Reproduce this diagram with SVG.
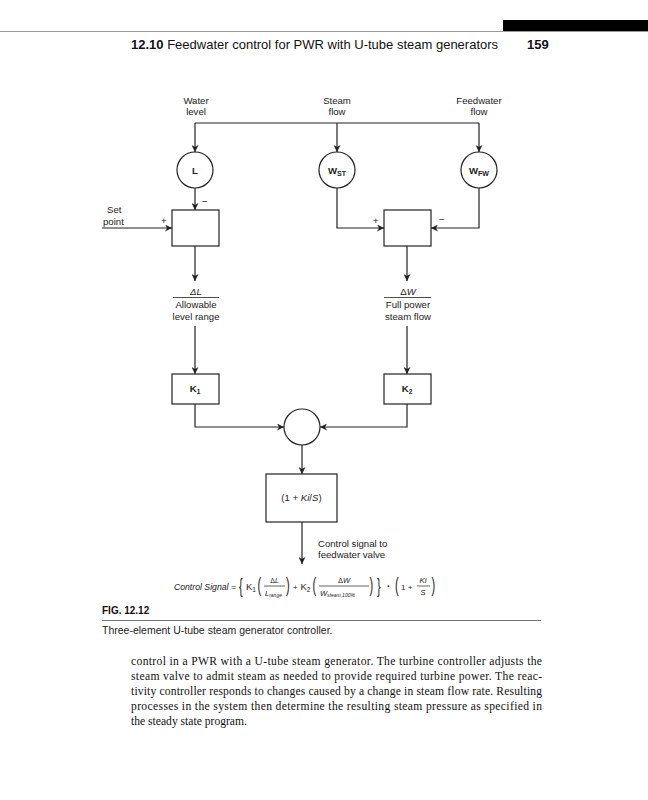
<svg xmlns="http://www.w3.org/2000/svg" width="648" height="800" viewBox="0 0 648 800">
<style>
.l{font-family:"Liberation Sans",Arial,sans-serif;font-size:9.6px;fill:#222}
.c{text-anchor:middle}
.ln{fill:none;stroke:#222;stroke-width:1.2}
.nd{fill:#fff;stroke:#222;stroke-width:1.2}
.b{font-weight:bold}
.it{font-style:italic}
.body{font-family:"Liberation Serif","Times New Roman",serif;font-size:11.6px;fill:#111}
.p{font-size:11px}
</style>
<defs>
<marker id="a" viewBox="0 0 10 10" refX="10" refY="5" markerWidth="7" markerHeight="7" markerUnits="userSpaceOnUse" orient="auto">
<path d="M0,0 L10,5 L0,10 L3,5 Z" fill="#222"/>
</marker>
</defs>
<rect width="648" height="800" fill="#fff"/>
<!-- header -->
<rect x="503" y="20" width="145" height="11" fill="#000"/>
<line x1="0" y1="31.5" x2="648" y2="31.5" stroke="#999" stroke-width="1"/>
<text x="131" y="49" font-family="Liberation Sans,Arial,sans-serif" font-size="13" fill="#111"><tspan font-weight="bold">12.10</tspan> Feedwater control for PWR with U-tube steam generators</text>
<text x="527" y="49" font-family="Liberation Sans,Arial,sans-serif" font-size="13" font-weight="bold" fill="#111">159</text>
<!-- input labels -->
<g id="water-level"><text class="l c" x="196" y="104">Water</text><text class="l c" x="196" y="115">level</text></g>
<g id="steam-flow"><text class="l c" x="337" y="104">Steam</text><text class="l c" x="337" y="115">flow</text></g>
<g id="feedwater-flow"><text class="l c" x="479" y="104">Feedwater</text><text class="l c" x="479" y="115">flow</text></g>
<g id="set-point"><text class="l" x="107" y="213">Set</text><text class="l" x="103" y="225">point</text></g>
<!-- connectors -->
<g id="connectors" class="ln">
<path d="M195,123 H479"/>
<path d="M195,123 V152" marker-end="url(#a)"/>
<path d="M337,123 V152" marker-end="url(#a)"/>
<path d="M479,123 V152" marker-end="url(#a)"/>
<path d="M195,188 V210" marker-end="url(#a)"/>
<path d="M102,228 H172" marker-end="url(#a)"/>
<path d="M337,188 V228 H384" marker-end="url(#a)"/>
<path d="M479,188 V228 H431" marker-end="url(#a)"/>
<path d="M195,246 V281" marker-end="url(#a)"/>
<path d="M407,246 V281" marker-end="url(#a)"/>
<path d="M195,326 V374" marker-end="url(#a)"/>
<path d="M407,326 V374" marker-end="url(#a)"/>
<path d="M195,404 V427 H284" marker-end="url(#a)"/>
<path d="M407,404 V427 H320" marker-end="url(#a)"/>
<path d="M302,445 V474" marker-end="url(#a)"/>
<path d="M302,522 V564" marker-end="url(#a)"/>
</g>
<g id="signs">
<text class="l" x="202" y="205" font-size="10">−</text>
<text class="l" x="161" y="224" font-size="9">+</text>
<text class="l" x="373" y="224" font-size="9">+</text>
<text class="l" x="439" y="223" font-size="10">−</text>
</g>
<!-- nodes -->
<g id="node-L"><circle class="nd" cx="195" cy="170" r="18"/><text class="l c b" x="195" y="173.5" font-size="9">L</text></g>
<g id="node-WST"><circle class="nd" cx="337" cy="170" r="18"/><text class="l c b" x="337" y="174" font-size="9.5">W<tspan font-size="7" dy="1.5">ST</tspan></text></g>
<g id="node-WFW"><circle class="nd" cx="479" cy="170" r="18"/><text class="l c b" x="479" y="174" font-size="9.5">W<tspan font-size="7" dy="1.5">FW</tspan></text></g>
<g id="sum-level"><rect class="nd" x="172" y="210" width="47" height="36"/></g>
<g id="sum-flow"><rect class="nd" x="384" y="210" width="47" height="36"/></g>
<g id="norm-level">
<text class="l c it" x="196" y="295">ΔL</text>
<line x1="173" y1="297.5" x2="219" y2="297.5" stroke="#222" stroke-width="0.8"/>
<text class="l c" x="196" y="308">Allowable</text>
<text class="l c" x="196" y="320">level range</text>
</g>
<g id="norm-flow">
<text class="l c" x="408" y="295">Δ<tspan class="it">W</tspan></text>
<line x1="384" y1="297.5" x2="431" y2="297.5" stroke="#222" stroke-width="0.8"/>
<text class="l c" x="408" y="308">Full power</text>
<text class="l c" x="408" y="320">steam flow</text>
</g>
<g id="gain-K1"><rect class="nd" x="172" y="374" width="47" height="30"/><text class="l c b" x="195" y="392" font-size="9">K<tspan font-size="6.5" dy="1.5">1</tspan></text></g>
<g id="gain-K2"><rect class="nd" x="384" y="374" width="47" height="30"/><text class="l c b" x="407" y="392" font-size="9">K<tspan font-size="6.5" dy="1.5">2</tspan></text></g>
<g id="summer"><circle class="nd" cx="302" cy="427" r="18"/></g>
<g id="pi"><rect class="nd" x="266" y="474" width="71" height="48"/><text class="l c" x="301.5" y="501">(1 + <tspan class="it">Ki</tspan>/<tspan class="it">S</tspan>)</text></g>
<g id="output-label"><text class="l" x="318" y="547">Control signal to</text><text class="l" x="318" y="558">feedwater valve</text></g>
<!-- formula -->
<g id="formula" font-family="Liberation Sans,Arial,sans-serif" fill="#222">
<text x="236" y="590" font-size="8.7" font-style="italic" text-anchor="end">Control Signal =</text>
<text class="p" transform="translate(239,593) scale(1,1.9)">{</text>
<text x="246" y="590" font-size="9.5">K<tspan font-size="6.5" dy="2">1</tspan></text>
<text class="p" transform="translate(257.5,592) scale(1,1.8)">(</text>
<text x="274.5" y="583" font-size="7" text-anchor="middle">Δ<tspan font-style="italic">L</tspan></text>
<line x1="264" y1="586" x2="285" y2="586" stroke="#222" stroke-width="0.7"/>
<text x="265" y="595.5" font-size="7.5" font-style="italic">L<tspan font-size="5" dy="1">range</tspan></text>
<text class="p" transform="translate(286,592) scale(1,1.8)">)</text>
<text x="293" y="590" font-size="8">+</text>
<text x="300.5" y="590" font-size="9.5">K<tspan font-size="6.5" dy="2">2</tspan></text>
<text class="p" transform="translate(312.5,592) scale(1,1.8)">(</text>
<text x="344" y="583" font-size="7.5" text-anchor="middle">Δ<tspan font-style="italic">W</tspan></text>
<line x1="319" y1="586" x2="369" y2="586" stroke="#222" stroke-width="0.7"/>
<text x="320" y="595.5" font-size="7.5" font-style="italic">W<tspan font-size="5" dy="1">steam,100%</tspan></text>
<text class="p" transform="translate(369.5,592) scale(1,1.8)">)</text>
<text class="p" transform="translate(377,593) scale(1,1.9)">}</text>
<text x="387" y="590" font-size="10" font-weight="bold">·</text>
<text class="p" transform="translate(395,592) scale(1,1.8)">(</text>
<text x="401" y="590" font-size="8">1 +</text>
<text x="423" y="583" font-size="8" font-style="italic" text-anchor="middle">Ki</text>
<line x1="417" y1="586" x2="430" y2="586" stroke="#222" stroke-width="0.7"/>
<text x="423" y="595" font-size="8" font-style="italic" text-anchor="middle">S</text>
<text class="p" transform="translate(431.5,592) scale(1,1.8)">)</text>
</g>
<!-- caption -->
<text x="102" y="614" font-family="Liberation Sans,Arial,sans-serif" font-size="10" font-weight="bold" fill="#111">FIG. 12.12</text>
<line x1="102" y1="620.5" x2="541" y2="620.5" stroke="#777" stroke-width="1"/>
<text x="102" y="634" font-family="Liberation Sans,Arial,sans-serif" font-size="10.5" fill="#222">Three-element U-tube steam generator controller.</text>
<!-- body -->
<text class="body" x="131" y="665" textLength="411" lengthAdjust="spacing">control in a PWR with a U-tube steam generator. The turbine controller adjusts the</text>
<text class="body" x="131" y="680" textLength="411" lengthAdjust="spacing">steam valve to admit steam as needed to provide required turbine power. The reac-</text>
<text class="body" x="131" y="695" textLength="411" lengthAdjust="spacing">tivity controller responds to changes caused by a change in steam flow rate. Resulting</text>
<text class="body" x="131" y="710" textLength="411" lengthAdjust="spacing">processes in the system then determine the resulting steam pressure as specified in</text>
<text class="body" x="131" y="725">the steady state program.</text>
</svg>
